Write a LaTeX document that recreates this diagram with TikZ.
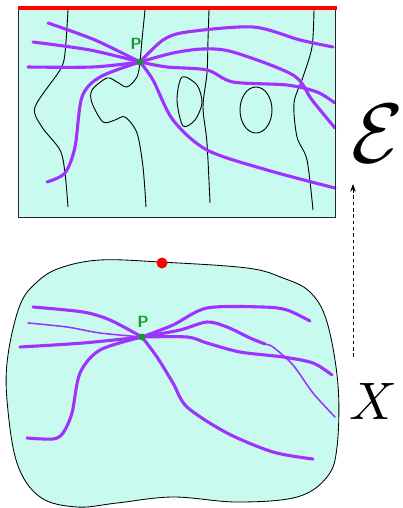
\documentclass[tikz,border=0pt]{standalone}
\usepackage{amsmath, amssymb, xcolor, tikz}
\usetikzlibrary{arrows.meta,positioning}
\definecolor{sea}{RGB}{201,250,240}
\definecolor{fibre}{RGB}{160,50,255}
\definecolor{pgreen}{RGB}{25,150,45}
\definecolor{edge}{RGB}{255,0,0}

\begin{document}
\begin{tikzpicture}[x=0.05cm,y=-0.05cm,
	leaf/.style={fibre, line width=4.4pt, line cap=round},
	thinleaf/.style={fibre, line width=2.2pt, line cap=round},
	level/.style={black, line width=1.3pt},
	ptlabel/.style={pgreen, font=\sffamily\bfseries, scale=2.3}]
				\useasboundingbox (0,0) rectangle (403,508);
				% total space
				\fill[sea] (18,8) rectangle (335,217);
				\draw[level] plot[smooth] coordinates {(68,10) (65,53) (60,70) (35,107) (42,127) (60,150) (65,173) (68,207)};
				\draw[level] plot[smooth] coordinates {(145,10) (142,40) (140,62) (137,77) (127,87) (117,82) (107,78) (92,90) (92,103) (103,122) (115,120) (125,117) (137,133) (143,167) (146,207)};
				\draw[level] plot[smooth] coordinates {(209,10) (208,40) (207,73) (203,107) (207,143) (210,203)};
				\draw[level] plot[smooth cycle] coordinates {(182,77) (177,100) (183,126) (195,120) (202,103) (197,85)};
				\draw[level] (256,110) ellipse (16 and 23);
				\draw[level] plot[smooth] coordinates {(314,10) (312,47) (303,77) (294,103) (297,137) (307,160) (313,210)};
				\coordinate (p1) at (140,62);
				\draw[leaf] plot[smooth] coordinates {(48,23) (95,40) (p1)};
				\draw[leaf] plot[smooth] coordinates {(33,42) (90,50) (p1)};
				\draw[leaf] plot[smooth] coordinates {(28,67) (93,67) (p1)};
				\draw[leaf] plot[smooth] coordinates {(p1) (100,77) (82,97) (75,147) (65,173) (47,182)};
				\draw[leaf] plot[smooth] coordinates {(p1) (163,40) (187,32) (253,27) (300,40) (333,47)};
				\draw[leaf] plot[smooth] coordinates {(p1) (173,53) (203,49) (233,52) (293,75) (312,100) (335,128)};
				\draw[leaf] plot[smooth] coordinates {(p1) (167,67) (207,70) (233,82) (287,85) (317,92) (335,103)};
				\draw[leaf] plot[smooth] coordinates {(p1) (153,80) (173,120) (207,150) (267,170) (335,188)};
				\fill[pgreen] (p1) circle (3.5);
				\node[ptlabel] (ptop) at (136,44) {P};
				\draw[black!85, line width=1.2pt] (18,8) -- (18,217) -- (335,217) -- (335,8);
				\draw[edge, line width=5.5pt] (18,8) -- (337,8);
				\node[scale=12] (eps) at (378,134) {$\mathcal{E}$};
				% base space
				\draw[sea, fill=sea] plot[smooth cycle, tension=0.6] coordinates {(160,262) (247,268) (283,278) (310,292) (327,322) (338,385) (337,447) (327,477) (297,497) (237,502) (173,497) (117,503) (77,507) (40,497) (17,463) (7,400) (8,355) (20,305) (37,282) (60,268) (100,260)};
				\draw[black, line width=1.2pt] plot[smooth cycle, tension=0.6] coordinates {(160,262) (247,268) (283,278) (310,292) (327,322) (338,385) (337,447) (327,477) (297,497) (237,502) (173,497) (117,503) (77,507) (40,497) (17,463) (7,400) (8,355) (20,305) (37,282) (60,268) (100,260)};
				\coordinate (p2) at (142,337);
				\draw[leaf] plot[smooth] coordinates {(33,307) (83,312) (110,320) (p2)};
				\draw[thinleaf] plot[smooth] coordinates {(28,323) (67,327) (100,333) (p2)};
				\draw[leaf] plot[smooth] coordinates {(20,347) (83,343) (p2)};
				\draw[leaf] plot[smooth] coordinates {(p2) (100,350) (80,373) (72,413) (63,433) (53,439) (27,438)};
				\draw[leaf] plot[smooth] coordinates {(p2) (173,325) (207,308) (263,307) (287,310) (310,321)};
				\draw[leaf] plot[smooth] coordinates {(p2) (180,330) (207,322) (227,327) (250,338) (265,344)};
				\draw[thinleaf] plot[smooth] coordinates {(250,338) (265,344) (273,347) (293,365) (313,393) (335,417)};
				\draw[leaf] plot[smooth] coordinates {(p2) (187,337) (207,343) (240,352) (283,357) (313,363) (332,375)};
				\draw[leaf] plot[smooth] coordinates {(p2) (157,357) (173,383) (187,407) (227,433) (273,452) (313,459)};
				\fill[pgreen] (p2) circle (3.5);
				\node[ptlabel] (pbase) at (143,322) {P};
				\fill[edge] (162,263) circle (5.5);
				\node[scale=7.5] (base) at (373,401) {$X$};
				% projection
				\coordinate (from) at (353,357);
				\coordinate (to) at (353,184);
				\draw[-{Stealth[length=11pt,width=8pt]}, dash pattern=on 5pt off 4pt, line width=1.1pt] (from) -- (to);
			\end{tikzpicture}
\end{document}
